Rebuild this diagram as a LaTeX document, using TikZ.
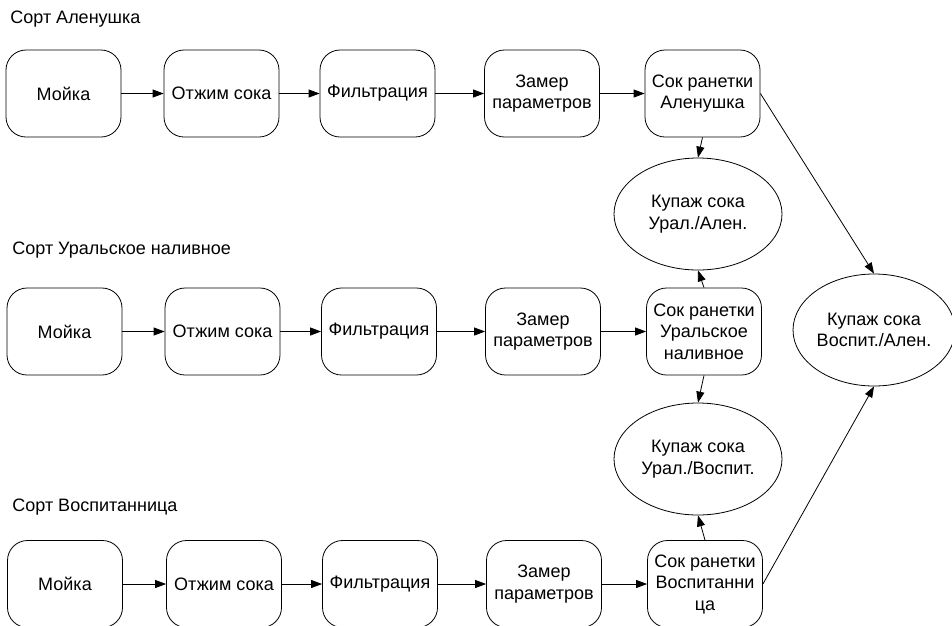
\documentclass[tikz,border=0pt]{standalone}
\usepackage{fontspec}
\setmainfont{Liberation Sans}
\usetikzlibrary{shapes.geometric,arrows.meta}

\begin{document}
\begin{tikzpicture}[
       x=1pt,y=-1pt,
       line width=0.8pt,
       >={Triangle[length=11pt,width=8pt]},
       every node/.style={
         font=\fontsize{18}{21.5}\selectfont
       },
       etap/.style={
         draw,
         rectangle,
         rounded corners=20pt,
         align=center,
         inner sep=0pt,
         minimum width=115pt,
         minimum height=87pt
       },
       kupazh/.style={
         draw,
         ellipse,
         align=center,
         inner sep=0pt,
         minimum width=168pt,
         minimum height=112pt
       },
       sort/.style={
         anchor=west,
         inner sep=0pt
       }
     ]

       \useasboundingbox (0,0) rectangle (952,625);

       \node (s1) at (10,19) [sort]{Сорт Аленушка};
       \node (s2) at (12,250) [sort]{Сорт Уральское наливное};
       \node (s3) at (12,507) [sort]{Сорт Воспитанница};

       \node (moi1) at (63.5,93.5) [etap]{Мойка};
       \node (otz1) at (221.5,93.5) [etap]{Отжим сока};
       \node (fil1) at (377.5,93.5) [etap]{Фильтрация};
       \node (zam1) at (542,93.5) [etap]{Замер\\параметров};
       \node (sok1) at (702.5,93.5) [etap]{Сок ранетки\\Аленушка};

       \node (moi2) at (64.5,331.5) [etap]{Мойка};
       \node (otz2) at (222.5,331.5) [etap]{Отжим сока};
       \node (fil2) at (379,331.5) [etap]{Фильтрация};
       \node (zam2) at (543,331.5) [etap]{Замер\\параметров};
       \node (sok2) at (704,331.5) [etap]{Сок ранетки\\Уральское\\наливное};

       \node (moi3) at (65,584) [etap]{Мойка};
       \node (otz3) at (224,584) [etap]{Отжим сока};
       \node (fil3) at (380,584) [etap]{Фильтрация};
       \node (zam3) at (544,584) [etap]{Замер\\параметров};
       \node (sok3) at (705,584) [etap]{Сок ранетки\\Воспитанни\\ца};

       \node (ua) at (698,214) [kupazh]{Купаж сока\\Урал./Ален.};
       \node (uv) at (698,459) [kupazh]{Купаж сока\\Урал./Воспит.};
       \node (va) at (874,330) [kupazh,minimum width=160pt]{Купаж сока\\Воспит./Ален.};

       \draw[->] (moi1) -- (otz1);
       \draw[->] (otz1) -- (fil1);
       \draw[->] (fil1) -- (zam1);
       \draw[->] (zam1) -- (sok1);

       \draw[->] (moi2) -- (otz2);
       \draw[->] (otz2) -- (fil2);
       \draw[->] (fil2) -- (zam2);
       \draw[->] (zam2) -- (sok2);

       \draw[->] (moi3) -- (otz3);
       \draw[->] (otz3) -- (fil3);
       \draw[->] (fil3) -- (zam3);
       \draw[->] (zam3) -- (sok3);

       \draw[->] (sok1.south) -- (ua.north);
       \draw[->] (sok2.north) -- (ua.south);
       \draw[->] (sok2.south) -- (uv.north);
       \draw[->] (sok3.north) -- (uv.south);

       \draw[->] (sok1.east) -- (va.north);
       \draw[->] (sok3.east) -- (va.south);

\end{tikzpicture}
\end{document}
